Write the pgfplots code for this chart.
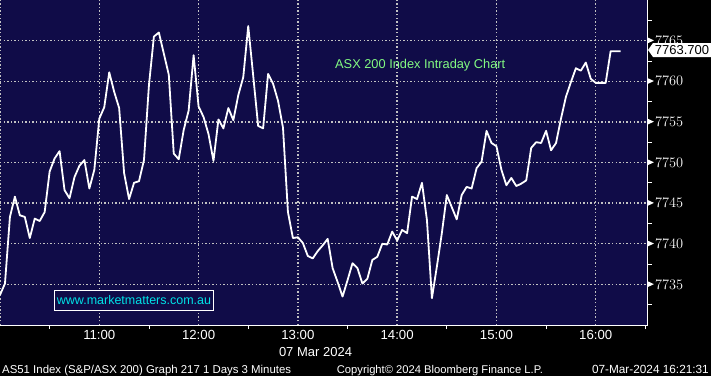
\documentclass[border=0pt]{standalone}
\usepackage{pgfplots}
\pgfplotsset{compat=1.18}
\usepackage{fontspec}
\setmainfont{Liberation Sans}
\definecolor{navy}{RGB}{16,12,72}
\definecolor{gridgray}{RGB}{195,195,195}
\definecolor{titlegreen}{RGB}{130,250,130}
\definecolor{wmcyan}{RGB}{0,225,230}

\begin{document}
\begin{tikzpicture}
\fill[black] (0pt,0pt) rectangle (711pt,376pt);
\useasboundingbox (0pt,0pt) rectangle (711pt,376pt);
\begin{axis}[
  at={(0pt,51pt)}, anchor=south west,
  scale only axis, width=647.7pt, height=325pt,
  xmin=0, xmax=391.4, ymin=7730, ymax=7770,
  axis background/.style={fill=navy},
  axis x line*=bottom, axis y line*=right,
  axis line style={white, line width=1pt},
  xtick={0,60,...,360},
  xticklabels={,11:00,12:00,13:00,14:00,15:00,16:00},
  minor xtick={30,90,...,390},
  ytick={7735,7740,...,7765},
  minor ytick={7732.5,7737.5,...,7767.5},
  major tick length=0pt, minor tick length=4pt,
  tick align=outside,
  tick style={white, line width=0.8pt},
  xmajorgrids=true, ymajorgrids=true,
  major grid style={draw=gridgray, line width=1.4pt, dash pattern=on 1.4pt off 2.2pt},
  xticklabel style={text=white, anchor=north, inner sep=0pt, yshift=-5pt, font=\fontsize{13.2}{14}\selectfont},
  yticklabel={\tikz[baseline=-0.36em]\fill[white] (0pt,2.8pt)--(6pt,0pt)--(0pt,-2.8pt)--cycle;\hspace{1.2pt}\pgfmathprintnumber[fixed,precision=0,1000 sep={}]{\tick}},
  yticklabel style={text=white, anchor=west, inner sep=0pt, xshift=0pt, font=\fontsize{13.5}{14}\selectfont},
]
\addplot[white, line width=1.8pt, line join=round] coordinates {
(0,7733.7) (3,7735.1) (6,7743.3) (9,7745.8) (12,7743.5) (15,7743.3) (18,7740.7) (21,7743.1) (24,7742.8) (27,7743.9)
(30,7748.9) (33,7750.5) (36,7751.4) (39,7746.6) (42,7745.6) (45,7748.2) (48,7749.6) (51,7750.3) (54,7746.8) (57,7749.1)
(60,7755.4) (63,7756.8) (66,7761.1) (69,7758.7) (72,7756.7) (75,7748.7) (78,7745.5) (81,7747.5) (84,7747.7) (87,7750.3)
(90,7759.5) (93,7765.5) (96,7766.0) (99,7763.4) (102,7760.8) (105,7751.1) (108,7750.4) (111,7754.0) (114,7756.4) (117,7763.2)
(120,7756.9) (123,7755.6) (126,7753.5) (129,7750.2) (132,7755.3) (135,7754.2) (138,7756.7) (141,7755.2) (144,7758.3) (147,7760.5)
(150,7766.8) (153,7760.7) (156,7754.5) (159,7754.2) (162,7760.9) (165,7759.7) (168,7757.6) (171,7754.3) (174,7743.9) (177,7740.7)
(180,7740.8) (183,7740.1) (186,7738.5) (189,7738.2) (192,7739.1) (195,7739.8) (198,7740.6) (201,7737.0) (204,7735.3) (207,7733.5)
(210,7735.5) (213,7737.6) (216,7737.0) (219,7735.1) (222,7735.7) (225,7738.0) (228,7738.4) (231,7740.0) (234,7739.9) (237,7741.5)
(240,7740.4) (243,7741.7) (246,7741.3) (249,7745.8) (252,7745.5) (255,7747.5) (258,7742.9) (261,7733.3) (264,7737.2) (267,7741.3)
(270,7746.0) (273,7744.5) (276,7743.0) (279,7746.0) (282,7747.0) (285,7746.8) (288,7749.3) (291,7750.1) (294,7753.9) (297,7752.4)
(300,7752.0) (303,7749.1) (306,7747.2) (309,7748.1) (312,7747.1) (315,7747.4) (318,7747.8) (321,7751.8) (324,7752.5) (327,7752.4)
(330,7753.9) (333,7751.5) (336,7752.4) (339,7755.4) (342,7758.1) (345,7759.9) (348,7761.6) (351,7761.3) (354,7762.3) (357,7760.3)
(360,7759.8) (363,7759.8) (366,7759.8) (369,7763.7) (372,7763.7) (375,7763.7)
};
\end{axis}
% annotations
\node[anchor=base west, text=titlegreen, font=\fontsize{12.8}{14}\selectfont, inner sep=0pt] at (335pt,308pt) {ASX 200 Index Intraday Chart};
\node[draw=white, fill=navy, line width=1pt, text=wmcyan, font=\fontsize{12.5}{14}\selectfont, inner sep=0pt, minimum width=159pt, minimum height=20pt, anchor=south west] at (54pt,65pt) {www.marketmatters.com.au};
\fill[white] (648pt,326pt)--(653pt,333pt)--(711pt,333pt)--(711pt,319pt)--(653pt,319pt)--cycle;
\node[anchor=center, text=black, font=\fontsize{13}{14}\selectfont, inner sep=0pt] at (682pt,326pt) {7763.700};
\node[anchor=base, text=white, font=\fontsize{13}{14}\selectfont, inner sep=0pt] at (315.5pt,20pt) {07 Mar 2024};
\node[anchor=base west, text=white, font=\fontsize{11.4}{13}\selectfont, inner sep=0pt] at (2pt,3pt) {AS51 Index (S\&P/ASX 200) Graph 217 1 Days 3 Minutes};
\node[anchor=base west, text=white, font=\fontsize{11.2}{13}\selectfont, inner sep=0pt] at (336.7pt,3pt) {Copyright© 2024 Bloomberg Finance L.P.};
\node[anchor=base east, text=white, font=\fontsize{11.8}{13}\selectfont, inner sep=0pt] at (709pt,3pt) {07-Mar-2024 16:21:31};
\end{tikzpicture}
\end{document}
